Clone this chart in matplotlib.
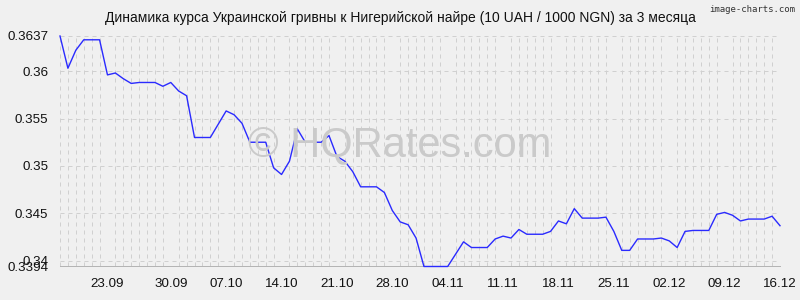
import numpy as np
import matplotlib
matplotlib.use("Agg")
import matplotlib.pyplot as plt

plt.rcParams['font.family'] = ['Liberation Sans', 'DejaVu Sans']

# daily rate, 10 UAH / 1000 NGN, 16.09 .. 16.12
rates = [0.3637, 0.3603, 0.3622, 0.3633, 0.3633, 0.3633, 0.3596, 0.3598, 0.3592, 0.3587,
         0.3588, 0.3588, 0.3588, 0.3584, 0.3588, 0.3579, 0.3574, 0.3530, 0.3530, 0.3530,
         0.3544, 0.3558, 0.3554, 0.3545, 0.3525, 0.3525, 0.3525, 0.3498, 0.3491, 0.3505,
         0.3539, 0.3525, 0.3525, 0.3525, 0.3532, 0.3510, 0.3505, 0.3494, 0.3478, 0.3478,
         0.3478, 0.3472, 0.3453, 0.3441, 0.3438, 0.3424, 0.3394, 0.3394, 0.3394, 0.3394,
         0.3407, 0.3420, 0.3414, 0.3414, 0.3414, 0.3423, 0.3426, 0.3424, 0.3433, 0.3428,
         0.3428, 0.3428, 0.3431, 0.3442, 0.3439, 0.3455, 0.3445, 0.3445, 0.3445, 0.3446,
         0.3431, 0.3411, 0.3411, 0.3423, 0.3423, 0.3423, 0.3424, 0.3421, 0.3414, 0.3431,
         0.3432, 0.3432, 0.3432, 0.3449, 0.3451, 0.3448, 0.3442, 0.3444, 0.3444, 0.3444,
         0.3447, 0.3437]

date_labels = ["23.09", "30.09", "07.10", "14.10", "21.10", "28.10", "04.11",
               "11.11", "18.11", "25.11", "02.12", "09.12", "16.12"]
date_idx = [6, 14, 21, 28, 35, 42, 49, 56, 63, 70, 77, 84, 91]

y_ticks = [0.3394, 0.34, 0.345, 0.35, 0.355, 0.36, 0.3637]
y_labels = ["0.3394", "0.34", "0.345", "0.35", "0.355", "0.36", "0.3637"]

title = "Динамика курса Украинской гривны к Нигерийской найре (10 UAH / 1000 NGN) за 3 месяца"

bg = '#f0f0f0'
fig = plt.figure(figsize=(8, 3), dpi=100, facecolor=bg)
ax = fig.add_axes([0.075, 0.1117, 0.9, 0.7683], facecolor=bg)

x = np.arange(len(rates))
ax.plot(x, rates, color='#2a2aff', lw=1.0, zorder=3, clip_on=False)

ax.set_xlim(0, len(rates) - 1)
ax.set_ylim(min(y_ticks), max(y_ticks))

# grid: dashed vertical every day, dashed horizontal at labelled values
ax.set_xticks(x, minor=True)
ax.set_yticks(y_ticks)
ax.set_yticklabels(y_labels)
ax.set_xticks(date_idx)
ax.set_xticklabels(date_labels)
ax.grid(which='minor', axis='x', color='#d0d0d0', lw=0.72, ls=(0, (4, 4)), zorder=0)
ax.grid(which='major', axis='y', color='#d0d0d0', lw=0.72, ls=(0, (4, 4)), zorder=0)
ax.tick_params(which='both', length=0)
ax.tick_params(axis='y', pad=8.5, labelsize=9.6, colors='#111111')
ax.tick_params(axis='x', pad=8, labelsize=9.6, colors='#111111')

for s in ['top', 'right', 'left']:
    ax.spines[s].set_visible(False)
ax.spines['bottom'].set_color('#b4b4b4')
ax.spines['bottom'].set_linewidth(0.72)

fig.text(0.5, 1 - 145 / 300, "© HQRates.com", ha='center', va='center',
         fontsize=30, color='#cacaca', zorder=1)
fig.text(0.5, 1 - 18 / 300, title, ha='center', va='center', fontsize=10, color='#111111')
fig.text(0.994, 1 - 10 / 300, "image-charts.com", ha='right', va='center',
         fontsize=6.5, color='#333333', family='DejaVu Sans Mono')

fig.savefig("out.png", dpi=100, facecolor=bg)
